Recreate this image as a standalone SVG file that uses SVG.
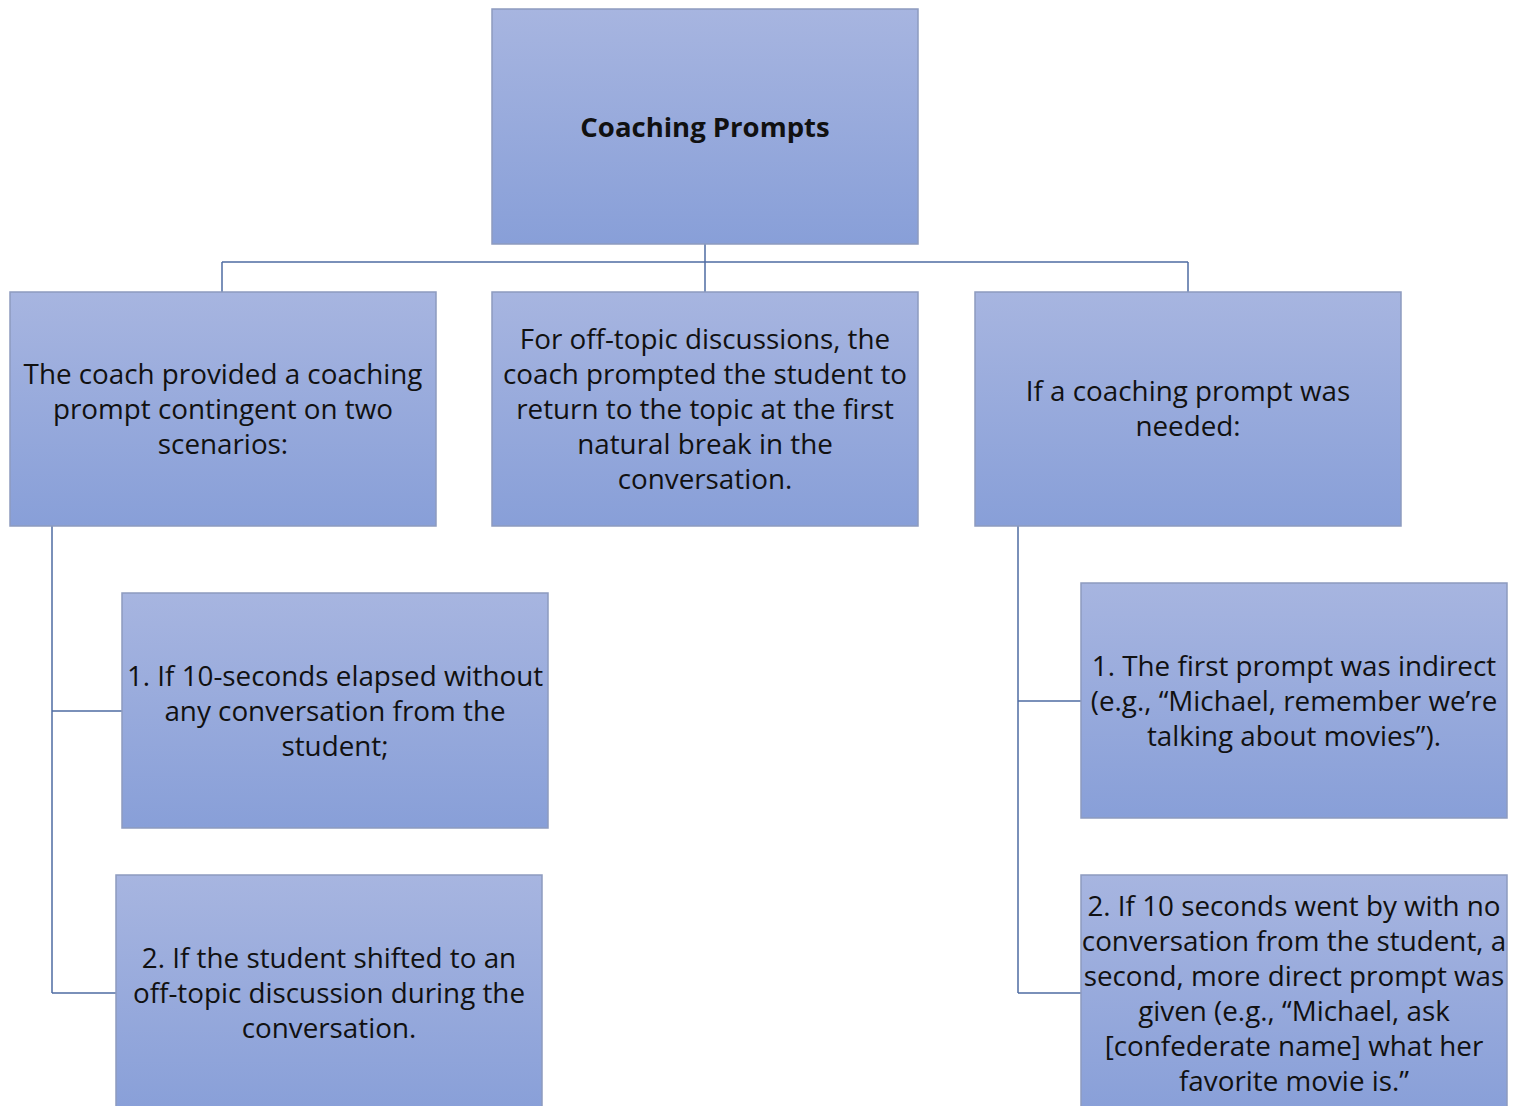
<svg xmlns="http://www.w3.org/2000/svg" width="1518" height="1106" viewBox="0 0 1518 1106">
<defs>
<linearGradient id="g" x1="0" y1="0" x2="0" y2="1">
<stop offset="0" stop-color="#a7b5e0"/>
<stop offset="1" stop-color="#889fd8"/>
</linearGradient>
</defs>
<style>
.box{fill:url(#g);stroke:#8d9bbf;stroke-width:1.5}
.t{font-family:"Open Sans","Noto Sans","Liberation Sans",sans-serif;font-size:27.8px;fill:#111;text-anchor:middle}
.b{font-weight:bold;font-size:27.5px}
.c{fill:none;stroke:#4f6ca3;stroke-width:1.5}
</style>
<rect width="1518" height="1106" fill="#fff"/>
<g id="connectors">
<path class="c" d="M705 244V262M222 262H1188M222 262V292M705 262V292M1188 262V292"/>
<path class="c" d="M52 526V993M52 711H122M52 993H116"/>
<path class="c" d="M1018 526V993M1018 701H1081M1018 993H1081"/>
</g>
<g id="root">
<rect class="box" x="492" y="9" width="426" height="235"/>
<text class="t b" x="705" y="137">Coaching Prompts</text>
</g>
<g id="n-left">
<rect class="box" x="10" y="292" width="426" height="234"/>
<text class="t" x="223" y="384">The coach provided a coaching</text>
<text class="t" x="223" y="419">prompt contingent on two</text>
<text class="t" x="223" y="454">scenarios:</text>
</g>
<g id="n-mid">
<rect class="box" x="492" y="292" width="426" height="234"/>
<text class="t" x="705" y="349">For off-topic discussions, the</text>
<text class="t" x="705" y="384">coach prompted the student to</text>
<text class="t" x="705" y="419">return to the topic at the first</text>
<text class="t" x="705" y="454">natural break in the</text>
<text class="t" x="705" y="489">conversation.</text>
</g>
<g id="n-right">
<rect class="box" x="975" y="292" width="426" height="234"/>
<text class="t" x="1188" y="401">If a coaching prompt was</text>
<text class="t" x="1188" y="436">needed:</text>
</g>
<g id="n-left-1">
<rect class="box" x="122" y="593" width="426" height="235"/>
<text class="t" x="335" y="686">1. If 10-seconds elapsed without</text>
<text class="t" x="335" y="721">any conversation from the</text>
<text class="t" x="335" y="756">student;</text>
</g>
<g id="n-left-2">
<rect class="box" x="116" y="875" width="426" height="240"/>
<text class="t" x="329" y="968">2. If the student shifted to an</text>
<text class="t" x="329" y="1003">off-topic discussion during the</text>
<text class="t" x="329" y="1038">conversation.</text>
</g>
<g id="n-right-1">
<rect class="box" x="1081" y="583" width="426" height="235"/>
<text class="t" x="1294" y="676">1. The first prompt was indirect</text>
<text class="t" x="1294" y="711">(e.g., “Michael, remember we’re</text>
<text class="t" x="1294" y="746">talking about movies”).</text>
</g>
<g id="n-right-2">
<rect class="box" x="1081" y="875" width="426" height="240"/>
<text class="t" x="1294" y="916">2. If 10 seconds went by with no</text>
<text class="t" x="1294" y="951">conversation from the student, a</text>
<text class="t" x="1294" y="986">second, more direct prompt was</text>
<text class="t" x="1294" y="1021">given (e.g., “Michael, ask</text>
<text class="t" x="1294" y="1056">[confederate name] what her</text>
<text class="t" x="1294" y="1091">favorite movie is.”</text>
</g>
</svg>
